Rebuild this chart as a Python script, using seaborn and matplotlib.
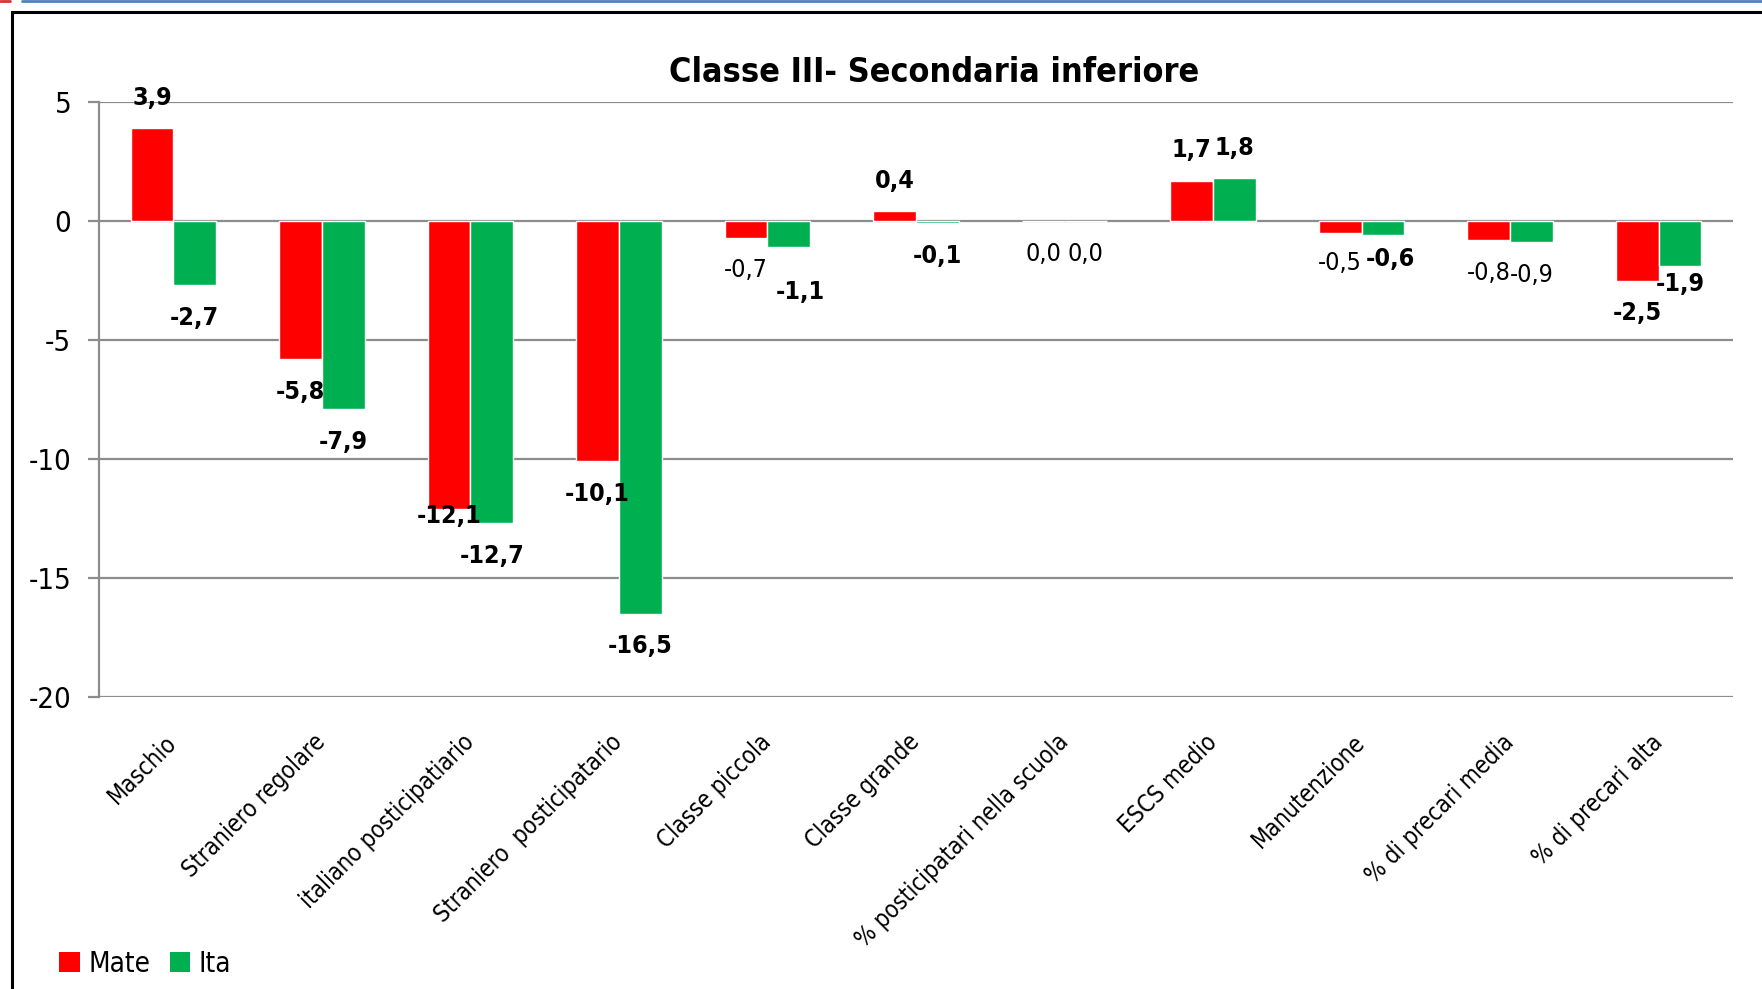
import numpy as np
import pandas as pd
import seaborn as sns
from matplotlib import pyplot as plt
from matplotlib.patches import Patch, Rectangle
from matplotlib.lines import Line2D

categorie = ["Maschio", "Straniero regolare", "italiano posticipatiario",
             "Straniero  posticipatario", "Classe piccola", "Classe grande",
             "% posticipatari nella scuola", "ESCS medio", "Manutenzione",
             "% di precari media", "% di precari alta"]
serie = ["Mate", "Ita"]
mate = [3.9, -5.8, -12.1, -10.1, -0.7, 0.4, 0.0, 1.7, -0.5, -0.8, -2.5]
ita = [-2.7, -7.9, -12.7, -16.5, -1.1, -0.1, 0.0, 1.8, -0.6, -0.9, -1.9]
yticks = [-20, -15, -10, -5, 0, 5]
titolo = "Classe III- Secondaria inferiore"

# stile etichette (grassetto o no) e piccoli spostamenti, come nel grafico originale
bold = {
    "Mate": [True, True, True, True, False, True, False, True, False, False, True],
    "Ita": [True, True, True, True, True, True, False, True, True, False, True],
}
spost = {("Mate", 2): (0, 5), ("Ita", 4): (8, 32), ("Ita", 8): (5, 17),
         ("Ita", 10): (0, 13), ("Mate", 8): (0, 22)}

colori = {"Mate": "#ff0000", "Ita": "#00b050"}
W, H = 1762, 989

df = pd.DataFrame({
    "categoria": categorie * 2,
    "serie": ["Mate"] * len(mate) + ["Ita"] * len(ita),
    "valore": mate + ita,
})

sns.set_style("white")
plt.rcParams["font.family"] = ["DejaVu Sans"]
plt.rcParams["font.stretch"] = "condensed"
plt.rcParams["text.color"] = "black"
plt.rcParams["xtick.color"] = "black"
plt.rcParams["ytick.color"] = "black"

fig = plt.figure(figsize=(W / 100, H / 100), dpi=100)
ax = fig.add_axes([99 / W, 1 - 697 / H, (1733 - 99) / W, (697 - 102) / H])

sns.barplot(data=df, x="categoria", y="valore", hue="serie",
            hue_order=serie, order=categorie, palette=colori,
            width=0.575, saturation=1, errorbar=None, legend=False, ax=ax)

ax.set_ylim(-20, 5)
ax.set_xlim(-0.5, len(categorie) - 0.5)
ax.set_yticks(yticks)
ax.set_yticklabels([str(t) for t in yticks], fontsize=21)
ax.set_axisbelow(True)
ax.yaxis.grid(True, color="#8c8c8c", lw=1.6)
ax.xaxis.grid(False)
for s in ["top", "right", "bottom"]:
    ax.spines[s].set_visible(False)
ax.spines["left"].set_color("#8c8c8c")
ax.spines["left"].set_linewidth(1.6)
ax.tick_params(axis="y", length=8, width=1.6, color="#8c8c8c",
               labelcolor="black", pad=12, left=True)
ax.tick_params(axis="x", length=0, pad=30, labelcolor="black")
ax.set_xticks(range(len(categorie)))
ax.set_xticklabels(categorie, rotation=45, ha="right", va="center",
                   rotation_mode="anchor", fontsize=17)
ax.set_xlabel("")
ax.set_ylabel("")

for nome, cont in zip(serie, ax.containers):
    for i, bar in enumerate(cont):
        v = bar.get_height()
        dx, dist = spost.get((nome, i), (0, 23.5 if v <= 0 else 22))
        dy = dist if v > 0 else -dist
        ax.annotate(f"{v:.1f}".replace(".", ","),
                    (bar.get_x() + bar.get_width() / 2, v),
                    xytext=(dx, dy), textcoords="offset points",
                    ha="center", va="center", fontsize=18,
                    fontweight="bold" if bold[nome][i] else "normal")

fig.text(934 / W, 1 - 72 / H, titolo, ha="center", va="center",
         fontsize=24.5, fontweight="bold")

maniglie = [Patch(facecolor=colori[s], edgecolor="none", label=s) for s in serie]
fig.legend(handles=maniglie, loc="lower left", ncol=2, frameon=False,
           bbox_to_anchor=(34 / W, 1 - 1003 / H),
           handlelength=0.75, handleheight=0.75, handletextpad=0.3,
           columnspacing=0.7, prop={"size": 20})

# cornice e righe decorative
fig.add_artist(Rectangle((12 / W, -0.2), 1.2, 1 - 12 / H + 0.2,
                         transform=fig.transFigure, fill=False,
                         edgecolor="black", lw=2.2))
fig.add_artist(Line2D([22 / W, 1], [1 - 1 / H, 1 - 1 / H],
                      transform=fig.transFigure, color="#4f81bd", lw=2))
fig.add_artist(Line2D([0, 10 / W], [1 - 1 / H, 1 - 1 / H],
                      transform=fig.transFigure, color="#e03030", lw=2))

fig.savefig("out.png", dpi=100)
